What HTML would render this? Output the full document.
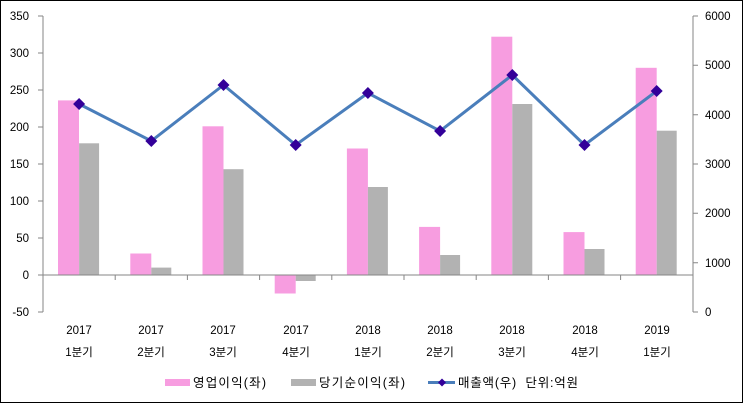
<!DOCTYPE html>
<html><head><meta charset="utf-8"><style>
body{margin:0;background:#fff}
svg{display:block}
text{font-family:"Liberation Sans","Noto Sans CJK KR",sans-serif;font-size:11.5px;fill:#000;white-space:pre}
.k{font-size:12.5px}
</style></head><body>
<svg width="743" height="403" viewBox="0 0 743 403">
<rect x="0.5" y="0.5" width="742" height="402" fill="#fff" stroke="#000"/>
<g fill="#f79de0">
<rect x="58" y="100.4" width="21" height="174.6"/>
<rect x="130.3" y="253.5" width="21" height="21.5"/>
<rect x="202.5" y="126.3" width="21" height="148.7"/>
<rect x="274.7" y="275" width="21" height="18.5"/>
<rect x="346.9" y="148.5" width="21" height="126.5"/>
<rect x="419.1" y="226.9" width="21" height="48.1"/>
<rect x="491.3" y="36.7" width="21" height="238.3"/>
<rect x="563.5" y="232.1" width="21" height="42.9"/>
<rect x="635.7" y="67.8" width="21" height="207.2"/>
</g>
<g fill="#b2b2b2">
<rect x="79.1" y="143.3" width="20" height="131.7"/>
<rect x="151.3" y="267.6" width="20" height="7.4"/>
<rect x="223.5" y="169.2" width="20" height="105.8"/>
<rect x="295.7" y="275" width="20" height="6"/>
<rect x="367.9" y="187" width="20" height="88"/>
<rect x="440.1" y="255" width="20" height="20"/>
<rect x="512.3" y="104" width="20" height="171"/>
<rect x="584.5" y="249" width="20" height="26"/>
<rect x="656.7" y="130.7" width="20" height="144.3"/>
</g>
<g stroke="#868686" stroke-width="1" fill="none">
<line x1="43" y1="16" x2="43" y2="312"/>
<line x1="693" y1="16" x2="693" y2="312"/>
<line x1="43" y1="275" x2="693" y2="275"/>
<path d="M38 16H43M38 53H43M38 90H43M38 127H43M38 164H43M38 201H43M38 238H43M38 275H43M38 312H43"/>
<path d="M693 16H698M693 65.3H698M693 114.7H698M693 164H698M693 213.3H698M693 262.7H698M693 312H698"/>
<path d="M115.2 275v5M187.4 275v5M259.6 275v5M331.8 275v5M404 275v5M476.2 275v5M548.4 275v5M620.6 275v5"/>
</g>
<polyline points="79.1,104 151.3,141 223.5,85 295.7,145 367.9,93 440.1,131 512.3,75 584.5,145 656.7,91" fill="none" stroke="#4a7ebb" stroke-width="3"/>
<g fill="#330099">
<path d="M79.1 98l6 6-6 6-6-6z"/><path d="M151.3 135l6 6-6 6-6-6z"/><path d="M223.5 79l6 6-6 6-6-6z"/>
<path d="M295.7 139l6 6-6 6-6-6z"/><path d="M367.9 87l6 6-6 6-6-6z"/><path d="M440.1 125l6 6-6 6-6-6z"/>
<path d="M512.3 69l6 6-6 6-6-6z"/><path d="M584.5 139l6 6-6 6-6-6z"/><path d="M656.7 85l6 6-6 6-6-6z"/>
</g>
<g text-anchor="end">
<text x="29" y="20">350</text><text x="29" y="57">300</text><text x="29" y="94">250</text>
<text x="29" y="131">200</text><text x="29" y="168">150</text><text x="29" y="205">100</text>
<text x="29" y="242">50</text><text x="29" y="279">0</text><text x="29" y="316">-50</text>
</g>
<g>
<text x="705" y="20">6000</text><text x="705" y="69">5000</text><text x="705" y="119">4000</text>
<text x="705" y="168">3000</text><text x="705" y="217">2000</text><text x="705" y="267">1000</text>
<text x="705" y="316">0</text>
</g>
<g text-anchor="middle" class="k">
<text x="79" y="334">2017</text><text x="79" y="356">1분기</text>
<text x="151" y="334">2017</text><text x="151" y="356">2분기</text>
<text x="223" y="334">2017</text><text x="223" y="356">3분기</text>
<text x="296" y="334">2017</text><text x="296" y="356">4분기</text>
<text x="368" y="334">2018</text><text x="368" y="356">1분기</text>
<text x="440" y="334">2018</text><text x="440" y="356">2분기</text>
<text x="512" y="334">2018</text><text x="512" y="356">3분기</text>
<text x="585" y="334">2018</text><text x="585" y="356">4분기</text>
<text x="657" y="334">2019</text><text x="657" y="356">1분기</text>
</g>
<rect x="165" y="379" width="25" height="7" fill="#f79de0"/>
<text class="k" x="193" y="387" textLength="73">영업이익(좌)</text>
<rect x="291" y="379" width="25" height="7" fill="#b2b2b2"/>
<text class="k" x="319" y="387" textLength="86">당기순이익(좌)</text>
<line x1="428" y1="382.5" x2="455" y2="382.5" stroke="#4a7ebb" stroke-width="3"/>
<path d="M442 378.5l4 4-4 4-4-4z" fill="#330099"/>
<text class="k" x="458" y="387" textLength="120">매출액(우)  단위:억원</text>
</svg>
</body></html>
